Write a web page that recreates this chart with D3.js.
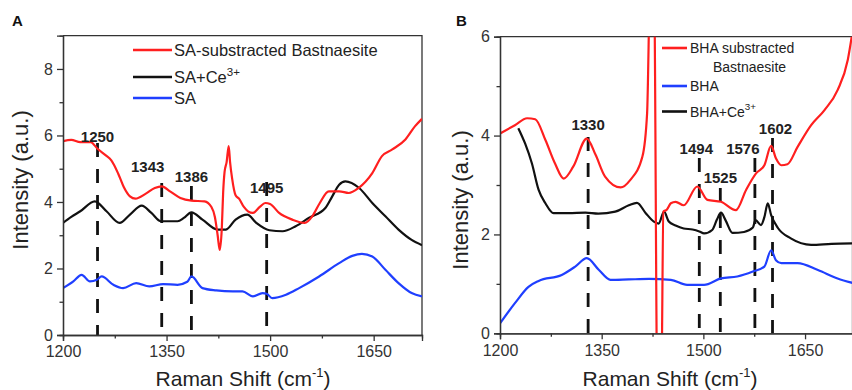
<!DOCTYPE html>
<html>
<head>
<meta charset="utf-8">
<script src="https://cdn.jsdelivr.net/npm/d3@7"></script>
<style>
  body { margin: 0; background: #fff; }
  svg { font-family: "Liberation Sans", Arial, sans-serif; }
  .axis path, .axis line { stroke: #333; stroke-width: 1.3; }
  .axis text { font-size: 16px; fill: #333; }
</style>
</head>
<body>
<div id="chart"></div>
<script>
// Raman shift range shared by both panels
const xDomain = [1200, 1720];
const xMajor = [1200, 1350, 1500, 1650];
const xMinor = [1275, 1425, 1575];

// panel A
const saBast = [[1200,5.83],[1212,5.87],[1225,5.8],[1240,5.8],[1250,5.6],[1262,5.4],[1270,5.25],[1280,4.85],
  [1288,4.45],[1297,4.17],[1305,4.1],[1320,4.25],[1333,4.42],[1343,4.47],[1355,4.32],[1370,4.12],[1386,4.04],
  [1405,4.02],[1415,3.85],[1420,3.55],[1424,3.0],[1427,2.56],[1430,3.2],[1432,4.3],[1434,4.9],[1437,5.2],
  [1440,5.68],[1442,5.2],[1445,4.7],[1450,4.2],[1455,4.1],[1462,3.85],[1468,3.72],[1475,3.67],[1485,3.85],
  [1493,3.97],[1500,3.94],[1513,3.67],[1532,3.47],[1550,3.37],[1562,3.6],[1572,3.97],[1585,4.32],[1600,4.32],
  [1614,4.27],[1628,4.42],[1648,4.87],[1662,5.38],[1677,5.58],[1696,5.88],[1710,6.28],[1720,6.5]];
const saCe = [[1200,3.37],[1212,3.55],[1225,3.72],[1246,4.02],[1263,3.72],[1282,3.37],[1297,3.62],[1314,3.89],
  [1328,3.67],[1342,3.42],[1366,3.42],[1375,3.52],[1386,3.69],[1402,3.47],[1424,3.17],[1436,3.17],[1450,3.47],
  [1467,3.62],[1480,3.37],[1499,3.15],[1518,3.12],[1537,3.27],[1556,3.52],[1580,3.82],[1590,4.17],[1600,4.52],
  [1609,4.62],[1629,4.42],[1648,3.97],[1667,3.57],[1686,3.17],[1705,2.86],[1720,2.7]];
const sa = [[1200,1.41],[1215,1.61],[1227,1.81],[1239,1.61],[1249,1.66],[1256,1.76],[1273,1.51],[1287,1.41],
  [1306,1.56],[1325,1.46],[1345,1.53],[1366,1.51],[1380,1.6],[1386,1.76],[1402,1.41],[1422,1.34],[1446,1.31],
  [1460,1.31],[1475,1.16],[1489,1.26],[1495,1.24],[1503,1.11],[1523,1.21],[1542,1.41],[1571,1.76],[1600,2.16],
  [1619,2.38],[1633,2.44],[1648,2.36],[1667,1.96],[1686,1.56],[1705,1.26],[1720,1.16]];
const peaksA = [1250, 1343, 1386, 1495];

// panel B
const bhaBast = [[1200,4.04],[1222,4.21],[1240,4.35],[1252,4.33],[1267,3.91],[1281,3.44],[1294,3.13],[1308,3.37],
  [1328,3.94],[1341,3.61],[1355,3.17],[1378,2.95],[1392,3.1],[1410,3.57],[1417,4.45],[1421,7],[1426,8],
  [1428,6.5],[1432,-1],[1438,-1],[1441,2.46],[1446,2.5],[1452,2.63],[1459,2.66],[1471,2.59],[1491,2.97],
  [1506,2.7],[1526,2.66],[1548,2.49],[1563,2.9],[1578,3.24],[1590,3.4],[1600,3.79],[1607,3.54],[1615,3.4],
  [1624,3.42],[1639,3.77],[1659,4.21],[1679,4.52],[1698,4.92],[1713,5.53],[1720,6.1]];
const bha = [[1200,0.2],[1222,0.61],[1242,0.94],[1257,1.06],[1291,1.18],[1311,1.35],[1328,1.52],[1346,1.28],
  [1363,1.08],[1390,1.09],[1420,1.1],[1452,1.08],[1476,0.98],[1501,0.98],[1526,1.11],[1550,1.15],[1573,1.25],
  [1590,1.35],[1600,1.68],[1607,1.48],[1615,1.42],[1639,1.42],[1669,1.28],[1698,1.11],[1720,1.02]];
const bhaCe = [[1227,4.15],[1237,3.84],[1247,3.44],[1257,2.9],[1267,2.63],[1279,2.43],[1301,2.43],[1326,2.44],
  [1345,2.42],[1370,2.46],[1390,2.59],[1402,2.64],[1415,2.43],[1427,2.26],[1434,2.22],[1442,2.46],[1449,2.26],
  [1459,2.18],[1471,2.12],[1484,2.1],[1494,2.06],[1501,2.02],[1513,2.09],[1520,2.3],[1526,2.44],[1533,2.28],
  [1543,2.03],[1560,2.05],[1573,2.14],[1577,2.29],[1585,2.19],[1590,2.35],[1595,2.63],[1600,2.39],[1610,2.13],
  [1629,1.92],[1659,1.79],[1689,1.81],[1720,1.82]];
const peaksB = [1330, 1494, 1525, 1576, 1602];

const RED = "#ff1f1f", BLACK = "#111", BLUE = "#1f3fff";

const svg = d3.select("#chart").append("svg")
  .attr("width", 852)
  .attr("height", 390);

function drawPanel(p) {
  const x = d3.scaleLinear().domain(xDomain).range([p.left, p.right]);
  const y = d3.scaleLinear().domain([0, p.yMax]).range([p.bottom, p.top]);

  svg.append("clipPath").attr("id", p.id + "clip")
    .append("rect")
    .attr("x", p.left).attr("y", p.top)
    .attr("width", p.right - p.left).attr("height", p.bottom - p.top);

  // frame top/right
  svg.append("path")
    .attr("d", `M${p.left},${p.top}H${p.right}V${p.bottom}`)
    .attr("fill", "none").attr("stroke", "#333").attr("stroke-width", 1.3);

  // dashed peak markers
  svg.append("g").selectAll("line")
    .data(p.peaks)
    .join("line")
    .attr("x1", d => x(d.v)).attr("x2", d => x(d.v))
    .attr("y1", d => d.y0).attr("y2", p.bottom)
    .attr("stroke", "#111").attr("stroke-width", 2.8)
    .attr("stroke-dasharray", "14,12");

  const line = d3.line().curve(d3.curveMonotoneX).x(d => x(d[0])).y(d => y(d[1]));
  svg.append("g").attr("clip-path", `url(#${p.id}clip)`)
    .selectAll("path")
    .data(p.series)
    .join("path")
    .attr("d", d => line(d.values))
    .attr("fill", "none")
    .attr("stroke", d => d.color)
    .attr("stroke-width", 2.2)
    .attr("stroke-linejoin", "round");

  // axes
  svg.append("g").attr("class", "axis")
    .attr("transform", `translate(0,${p.bottom})`)
    .call(d3.axisBottom(x).tickValues(xMajor).tickSize(6).tickPadding(5).tickFormat(d3.format("d")));
  svg.append("g").attr("class", "axis")
    .attr("transform", `translate(0,${p.bottom})`)
    .call(d3.axisBottom(x).tickValues(xMinor).tickSize(3.5).tickFormat(""));
  svg.append("g").attr("class", "axis")
    .attr("transform", `translate(${p.left},0)`)
    .call(d3.axisLeft(y).tickValues(d3.range(0, p.yMax + 1, 2)).tickSize(6).tickPadding(4).tickFormat(d3.format("d")));
  svg.append("g").attr("class", "axis")
    .attr("transform", `translate(${p.left},0)`)
    .call(d3.axisLeft(y).tickValues(d3.range(1, p.yMax, 2)).tickSize(3.5).tickFormat(""));

  // peak labels
  svg.append("g").selectAll("text")
    .data(p.peaks)
    .join("text")
    .attr("x", d => x(d.v) + (d.dx || 0)).attr("y", d => d.ly)
    .attr("text-anchor", "middle")
    .attr("font-size", 15).attr("font-weight", "bold").attr("fill", "#222")
    .text(d => d.v);

  // axis titles
  const xt = svg.append("text")
    .attr("x", p.xTitleX).attr("y", 386)
    .attr("text-anchor", "middle").attr("font-size", 21).attr("fill", "#222");
  xt.append("tspan").text("Raman Shift (cm");
  xt.append("tspan").attr("font-size", 13).attr("dy", -9).text("-1");
  xt.append("tspan").attr("dy", 9).text(")");

  svg.append("text")
    .attr("transform", `translate(${p.yTitleX},${p.yTitleY}) rotate(-90)`)
    .attr("text-anchor", "middle").attr("font-size", 22).attr("fill", "#222")
    .text("Intensity (a.u.)");

  svg.append("text")
    .attr("x", p.tagX).attr("y", 26)
    .attr("font-size", 15).attr("font-weight", "bold").attr("fill", "#111")
    .text(p.tag);
}

drawPanel({
  id: "a", tag: "A", tagX: 12,
  left: 63, right: 422, top: 35.7, bottom: 335, yMax: 9,
  xTitleX: 243, yTitleX: 28, yTitleY: 180,
  series: [
    { values: saCe, color: BLACK },
    { values: sa, color: BLUE },
    { values: saBast, color: RED }
  ],
  peaks: [
    { v: peaksA[0], y0: 143, ly: 141.7 },
    { v: peaksA[1], y0: 183, ly: 171.7, dx: -14 },
    { v: peaksA[2], y0: 186, ly: 181.7 },
    { v: peaksA[3], y0: 182, ly: 192.7 }
  ]
});

drawPanel({
  id: "b", tag: "B", tagX: 456,
  left: 500, right: 852.5, top: 36.7, bottom: 333.3, yMax: 6,
  xTitleX: 670, yTitleX: 468, yTitleY: 200,
  series: [
    { values: bhaCe, color: BLACK },
    { values: bha, color: BLUE },
    { values: bhaBast, color: RED }
  ],
  peaks: [
    { v: peaksB[0], y0: 137, ly: 130 },
    { v: peaksB[1], y0: 158, ly: 154, dx: -3 },
    { v: peaksB[2], y0: 188, ly: 183.3 },
    { v: peaksB[3], y0: 158, ly: 154, dx: -12 },
    { v: peaksB[4], y0: 138, ly: 134.3, dx: 3 }
  ]
});

// legends
function legend(items, x0, x1, tx, size) {
  items.forEach(it => {
    svg.append("line")
      .attr("x1", x0).attr("x2", x1).attr("y1", it.y).attr("y2", it.y)
      .attr("stroke", it.color).attr("stroke-width", 2.6);
    const t = svg.append("text")
      .attr("x", tx).attr("y", it.y + size * 0.36)
      .attr("font-size", size).attr("fill", "#222");
    t.append("tspan").text(it.label);
    if (it.sup) t.append("tspan").attr("font-size", size * 0.7).attr("dy", -size * 0.45).text(it.sup);
    if (it.line2) svg.append("text")
      .attr("x", it.line2x).attr("y", it.y + 19 + size * 0.36)
      .attr("font-size", size).attr("fill", "#222").text(it.line2);
  });
}

legend([
  { y: 50, color: RED, label: "SA-substracted Bastnaesite" },
  { y: 77, color: BLACK, label: "SA+Ce", sup: "3+" },
  { y: 98, color: BLUE, label: "SA" }
], 133, 172, 174, 16.5);

legend([
  { y: 48, color: RED, label: "BHA substracted", line2: "Bastnaesite", line2x: 713 },
  { y: 86, color: BLUE, label: "BHA" },
  { y: 111.5, color: BLACK, label: "BHA+Ce", sup: "3+" }
], 662, 687, 690, 14);
</script>
</body>
</html>
